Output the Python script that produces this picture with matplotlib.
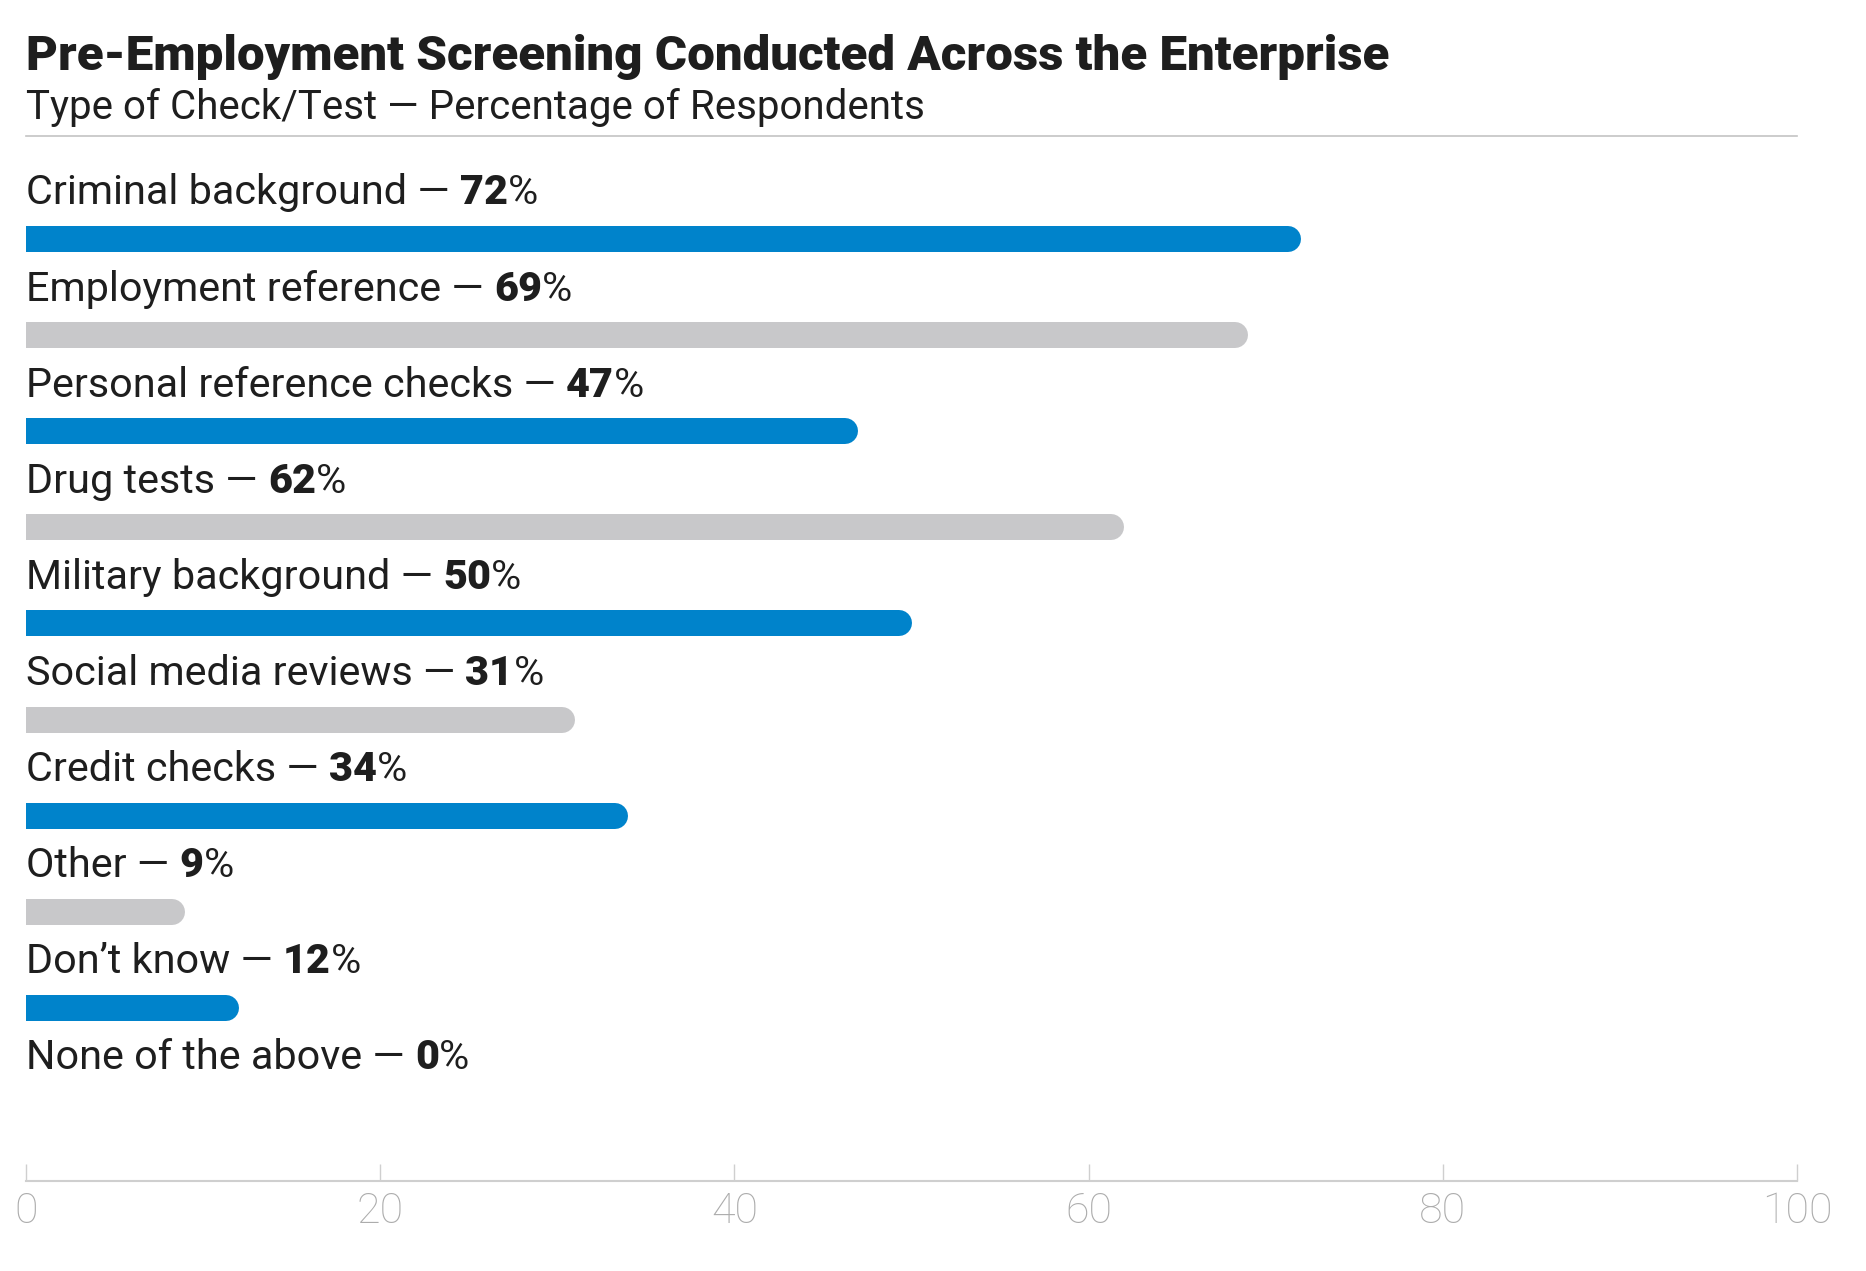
import matplotlib
matplotlib.use("Agg")
import matplotlib.pyplot as plt

categories = ["Criminal background", "Employment reference", "Personal reference checks",
              "Drug tests", "Military background", "Social media reviews", "Credit checks",
              "Other", "Don\u2019t know", "None of the above"]
values = [72, 69, 47, 62, 50, 31, 34, 9, 12, 0]
ticks = [0, 20, 40, 60, 80, 100]

title = "Pre-Employment Screening Conducted Across the Enterprise"
subtitle = "Type of Check/Test \u2014 Percentage of Respondents"

BLUE = "#0083cb"
GRAY = "#c8c8ca"
TEXT = "#1e1e1e"
AXIS = "#cfcfcf"

W, H = 1866, 1271
fig = plt.figure(figsize=(W / 100, H / 100), dpi=100)
fig.patch.set_facecolor("white")

x0, x1 = 26, 1797
row0, step = 239, 96.1
axis_y, top_y = 1181, 136
ax = fig.add_axes([x0 / W, 1 - axis_y / H, (x1 - x0) / W, (axis_y - top_y) / H])
ax.set_xlim(0, 100)
ax.set_ylim((axis_y - row0) / step, (top_y - row0) / step)
for s in ["top", "right", "left"]:
    ax.spines[s].set_visible(False)
ax.spines["bottom"].set_color(AXIS)
ax.spines["bottom"].set_linewidth(1.5)
ax.set_yticks([])
ax.set_xticks(ticks)
ax.tick_params(axis="x", direction="in", length=12, width=1, color=AXIS,
               labelcolor="#acacac", labelsize=31, pad=7)
for lab in ax.get_xticklabels():
    lab.set_family("Roboto")
    lab.set_fontweight("light")

# bars with rounded right end
bar_px = 26
px_per_unit = (x1 - x0) / 100.0
r_units = (bar_px / 2) / px_per_unit
for i, v in enumerate(values):
    if v <= 0:
        continue
    col = BLUE if i % 2 == 0 else GRAY
    ax.plot([-5, v - r_units], [i, i], color=col, lw=bar_px * 72 / 100,
            solid_capstyle="round", clip_on=True)

# labels
lab_font = dict(family="Roboto", size=29.8, color=TEXT)
for i, (c, v) in enumerate(zip(categories, values)):
    y = i - 0.36
    t1 = ax.text(0, y, c + " \u2014 ", va="baseline", ha="left", **lab_font)
    t2 = ax.annotate(str(v), xy=(1, 0), xycoords=t1, va="bottom", ha="left",
                     fontweight="black", **lab_font)
    ax.annotate("%", xy=(1, 0), xycoords=t2, va="bottom", ha="left", **lab_font)

fig.text(x0 / W, 1 - 70 / H, title, family="Roboto", fontweight="black",
         size=35.5, color=TEXT, va="baseline", ha="left")
fig.text(x0 / W, 1 - 119 / H, subtitle, family="Roboto", size=29,
         color=TEXT, va="baseline", ha="left")
fig.add_artist(plt.Line2D([x0 / W, x1 / W], [1 - top_y / H] * 2, color="#c4c4c4", lw=1.2))

fig.savefig("out.png", dpi=100, facecolor="white")
